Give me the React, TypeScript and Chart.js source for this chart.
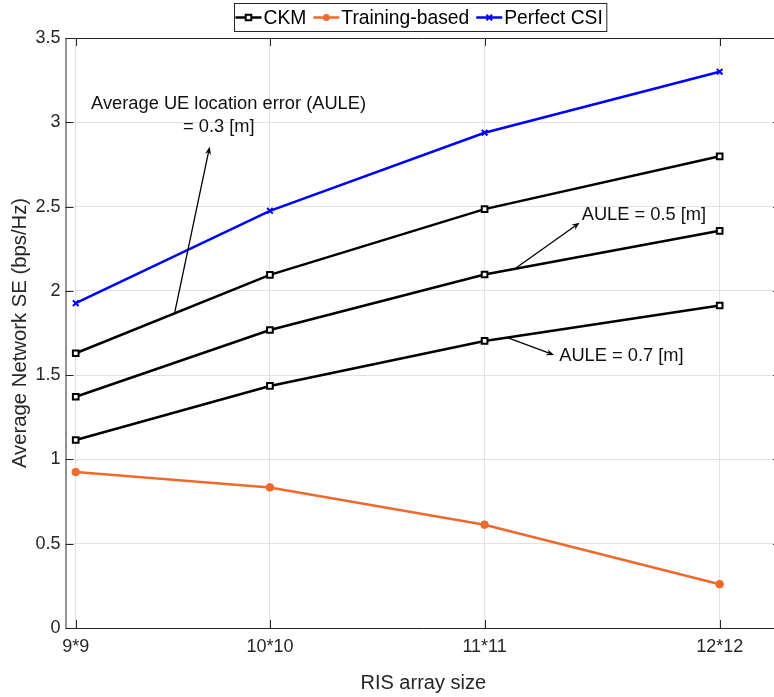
import React, { useEffect, useRef } from 'react';
import { Chart, registerables } from 'chart.js';

Chart.register(...registerables);

// ---- data ----
const arraySizes = [81, 100, 121, 144];
const xTickLabels = ['9*9', '10*10', '11*11', '12*12'];
const ckmAule03 = [1.63, 2.095, 2.485, 2.798];
const ckmAule05 = [1.372, 1.768, 2.097, 2.356];
const ckmAule07 = [1.115, 1.436, 1.703, 1.913];
const trainingBased = [0.925, 0.834, 0.613, 0.26];
const perfectCsi = [1.927, 2.475, 2.938, 3.3];
const legendLabels = ['CKM', 'Training-based', 'Perfect CSI'];

// annotation anchors (data coordinates)
const arrowStarts = [[90.7, 1.876], [124.1, 2.137], [123.3, 1.721]];
const arrowEnds = [[94.1, 2.855], [130.3, 2.404], [127.8, 1.62]];
const noteTexts = ['Average UE location error (AULE)', '= 0.3 [m]', 'AULE = 0.5 [m]', 'AULE = 0.7 [m]'];
const noteAnchors = [[82.5, 3.11], [91.5, 2.974], [130.5, 2.451], [128.3, 1.614]];

const FONT = '"Liberation Sans", Arial, Helvetica, sans-serif';
const TXT = '#262626';
const BLACK = '#000000';
const ORANGE = '#EE6A2C';
const BLUE = '#0000FF';
const GRID = '#e2e2e2';

const pts = (ys: number[]) => ys.map((y, i) => ({ x: arraySizes[i], y }));

const ckmStyle = {
  borderColor: BLACK,
  backgroundColor: '#ffffff',
  borderWidth: 2.5,
  pointStyle: 'rect',
  pointRadius: 4,
  pointBorderWidth: 2,
  pointBorderColor: BLACK,
  pointBackgroundColor: '#ffffff',
};

function drawMarker(ctx: CanvasRenderingContext2D, kind: number, x: number, y: number) {
  ctx.save();
  if (kind === 0) {
    ctx.lineWidth = 2;
    ctx.strokeStyle = BLACK;
    ctx.fillStyle = '#fff';
    ctx.beginPath();
    ctx.rect(x - 2.8, y - 2.8, 5.6, 5.6);
    ctx.fill();
    ctx.stroke();
  } else if (kind === 1) {
    ctx.fillStyle = ORANGE;
    ctx.beginPath();
    ctx.arc(x, y, 3.5, 0, Math.PI * 2);
    ctx.fill();
  } else {
    ctx.strokeStyle = BLUE;
    ctx.lineWidth = 2;
    const s = 2.8;
    ctx.beginPath();
    ctx.moveTo(x - s, y - s);
    ctx.lineTo(x + s, y + s);
    ctx.moveTo(x + s, y - s);
    ctx.lineTo(x - s, y + s);
    ctx.stroke();
  }
  ctx.restore();
}

const axesPlugin = {
  id: 'matlabAxes',
  beforeDatasetsDraw(chart: any) {
    const { ctx, chartArea: a, scales } = chart;
    const tl = 8;
    ctx.save();
    ctx.strokeStyle = TXT;
    ctx.lineWidth = 1;
    ctx.beginPath();
    ctx.moveTo(a.right + 0.5, a.top + 0.5);
    ctx.lineTo(a.left + 0.5, a.top + 0.5);
    ctx.lineTo(a.left + 0.5, a.bottom + 0.5);
    ctx.lineTo(a.right + 0.5, a.bottom + 0.5);
    ctx.stroke();
    ctx.beginPath();
    scales.x.ticks.forEach((t: any) => {
      const px = Math.round(scales.x.getPixelForValue(t.value)) + 0.5;
      ctx.moveTo(px, a.bottom);
      ctx.lineTo(px, a.bottom - tl);
      ctx.moveTo(px, a.top);
      ctx.lineTo(px, a.top + tl);
    });
    scales.y.ticks.forEach((t: any) => {
      const py = Math.round(scales.y.getPixelForValue(t.value)) + 0.5;
      ctx.moveTo(a.left, py);
      ctx.lineTo(a.left + tl, py);
      ctx.moveTo(a.right, py);
      ctx.lineTo(a.right - tl, py);
    });
    ctx.stroke();
    ctx.restore();
  },
};

const notesPlugin = {
  id: 'notes',
  afterDatasetsDraw(chart: any) {
    const { ctx, scales } = chart;
    const X = (v: number) => scales.x.getPixelForValue(v);
    const Y = (v: number) => scales.y.getPixelForValue(v);
    ctx.save();
    ctx.strokeStyle = BLACK;
    ctx.fillStyle = BLACK;
    ctx.lineWidth = 1.3;
    arrowStarts.forEach((s, i) => {
      const e = arrowEnds[i];
      const x0 = X(s[0]), y0 = Y(s[1]), x1 = X(e[0]), y1 = Y(e[1]);
      const ang = Math.atan2(y1 - y0, x1 - x0);
      const L = 8, W = 3.2;
      const bx = x1 - L * Math.cos(ang), by = y1 - L * Math.sin(ang);
      const nx = x1 - L * 0.65 * Math.cos(ang), ny = y1 - L * 0.65 * Math.sin(ang);
      ctx.beginPath();
      ctx.moveTo(x0, y0);
      ctx.lineTo(nx, ny);
      ctx.stroke();
      ctx.beginPath();
      ctx.moveTo(x1, y1);
      ctx.lineTo(bx + W * Math.sin(ang), by - W * Math.cos(ang));
      ctx.lineTo(nx, ny);
      ctx.lineTo(bx - W * Math.sin(ang), by + W * Math.cos(ang));
      ctx.closePath();
      ctx.fill();
    });
    ctx.font = `18.3px ${FONT}`;
    ctx.fillStyle = '#111111';
    ctx.textBaseline = 'middle';
    ctx.textAlign = 'left';
    noteTexts.forEach((t, i) => {
      ctx.fillText(t, X(noteAnchors[i][0]), Y(noteAnchors[i][1]));
    });
    ctx.restore();
  },
};

const legendPlugin = {
  id: 'boxLegend',
  afterDraw(chart: any) {
    const { ctx, chartArea: a } = chart;
    ctx.save();
    ctx.font = `19.3px ${FONT}`;
    const lineLen = 26, gapText = 2, gapItem = 7, padL = 1, padR = 4;
    const widths = legendLabels.map((l) => ctx.measureText(l).width);
    const total = padL + padR + widths.reduce((s, w) => s + lineLen + gapText + w, 0) + gapItem * (legendLabels.length - 1);
    const cx = (a.left + a.right) / 2 - 3.5;
    const left = Math.round(cx - total / 2) + 0.5;
    const top = 3.5, h = 28;
    ctx.fillStyle = '#ffffff';
    ctx.fillRect(left, top, total, h);
    ctx.strokeStyle = TXT;
    ctx.lineWidth = 1;
    ctx.strokeRect(left, top, total, h);
    const colors = [BLACK, ORANGE, BLUE];
    let x = left + padL;
    const cy = top + h / 2;
    legendLabels.forEach((l, i) => {
      ctx.strokeStyle = colors[i];
      ctx.lineWidth = 2.5;
      ctx.beginPath();
      ctx.moveTo(x, cy);
      ctx.lineTo(x + lineLen, cy);
      ctx.stroke();
      drawMarker(ctx, i, x + lineLen / 2, cy);
      x += lineLen + gapText;
      ctx.fillStyle = '#000000';
      ctx.textBaseline = 'middle';
      ctx.textAlign = 'left';
      ctx.fillText(l, x, cy + 1);
      x += widths[i] + gapItem;
    });
    ctx.restore();
  },
};

export default function App() {
  const ref = useRef<HTMLCanvasElement | null>(null);
  useEffect(() => {
    if (!ref.current) return;
    const chart = new Chart(ref.current, {
      type: 'line',
      data: {
        datasets: [
          { label: 'CKM 0.3', data: pts(ckmAule03), ...ckmStyle },
          { label: 'CKM 0.5', data: pts(ckmAule05), ...ckmStyle },
          { label: 'CKM 0.7', data: pts(ckmAule07), ...ckmStyle },
          {
            label: 'Training-based',
            data: pts(trainingBased),
            borderColor: ORANGE,
            backgroundColor: ORANGE,
            borderWidth: 2.5,
            pointStyle: 'circle',
            pointRadius: 3.8,
            pointBorderWidth: 1,
            pointBackgroundColor: ORANGE,
            pointBorderColor: ORANGE,
          },
          {
            label: 'Perfect CSI',
            data: pts(perfectCsi),
            borderColor: BLUE,
            backgroundColor: BLUE,
            borderWidth: 2.5,
            pointStyle: 'crossRot',
            pointRadius: 4,
            pointBorderWidth: 2,
            pointBorderColor: BLUE,
          },
        ],
      } as any,
      options: {
        responsive: false,
        animation: false,
        devicePixelRatio: 1,
        layout: { padding: { top: 38, right: 19, left: 0, bottom: 0 } },
        plugins: { legend: { display: false }, tooltip: { enabled: false } },
        elements: { line: { tension: 0 } },
        scales: {
          x: {
            type: 'linear',
            min: 80,
            max: 150,
            afterBuildTicks: (s: any) => {
              s.ticks = arraySizes.map((v) => ({ value: v }));
            },
            afterFit: (s: any) => {
              s.height = 69;
            },
            grid: { color: GRID, lineWidth: 1, drawTicks: false },
            border: { display: false },
            ticks: {
              autoSkip: false,
              maxRotation: 0,
              padding: 8,
              color: TXT,
              font: { family: FONT, size: 18 },
              callback: (_v: any, i: number) => xTickLabels[i],
            },
            title: {
              display: true,
              text: 'RIS array size',
              color: TXT,
              font: { family: FONT, size: 20 },
              padding: { top: 2, bottom: 2 },
            },
          },
          y: {
            min: 0,
            max: 3.5,
            afterFit: (s: any) => {
              s.width = 65.5;
            },
            grid: { color: GRID, lineWidth: 1, drawTicks: false },
            border: { display: false },
            ticks: {
              stepSize: 0.5,
              padding: 5,
              color: TXT,
              font: { family: FONT, size: 18 },
              callback: (v: any) => String(v),
            },
            title: {
              display: true,
              text: 'Average Network SE (bps/Hz)',
              color: TXT,
              font: { family: FONT, size: 20.3 },
              padding: { top: 8, bottom: 8 },
            },
          },
        },
      } as any,
      plugins: [axesPlugin, notesPlugin, legendPlugin],
    });
    return () => chart.destroy();
  }, []);
  return (
    <div style={{ position: 'fixed', left: 0, top: 0, width: 774, height: 697, overflow: 'hidden', background: '#fff' }}>
      <canvas ref={ref} width={800} height={697} style={{ display: 'block', width: 800, height: 697 }} />
    </div>
  );
}
